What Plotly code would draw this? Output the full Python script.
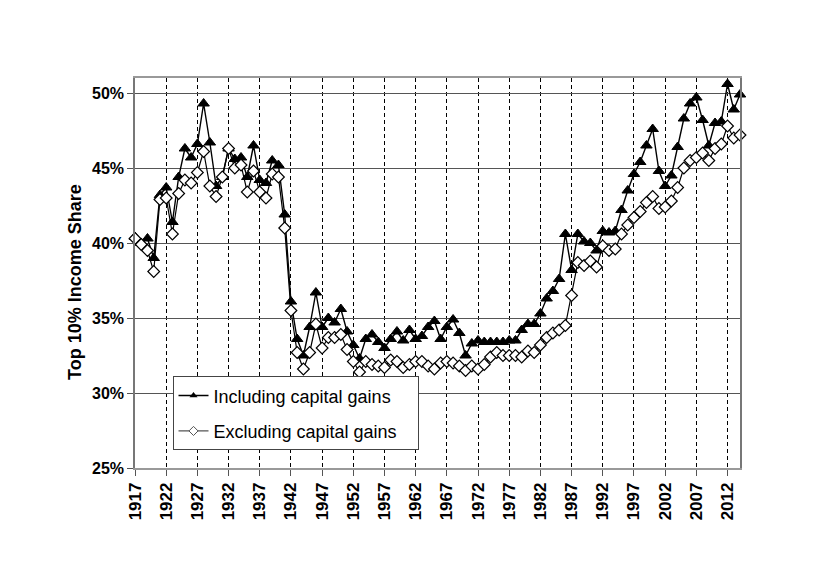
import plotly.graph_objects as go

years = list(range(1917, 2015))

incl_cg = [
    40.4, 40.0, 40.3, 39.0, 43.2, 43.7, 41.4, 44.4, 46.3, 45.7,
    46.6, 49.3, 46.7, 43.8, 44.4, 46.3, 45.6, 45.7, 44.4, 46.5,
    44.2, 44.0, 45.5, 45.2, 41.9, 36.1, 33.6, 32.5, 34.4, 36.7,
    34.4, 35.0, 34.7, 35.6, 34.1, 33.2, 32.3, 33.6, 33.9, 33.4,
    33.0, 33.6, 34.1, 33.5, 34.2, 33.6, 33.8, 34.4, 34.8, 33.6,
    34.4, 34.9, 34.0, 32.5, 33.3, 33.5, 33.4, 33.4, 33.4, 33.4,
    33.5, 33.5, 34.2, 34.6, 34.6, 35.3, 36.3, 36.8, 37.6, 40.6,
    38.2, 40.6, 40.1, 40.0, 39.5, 40.8, 40.7, 40.8, 42.2, 43.5,
    44.6, 45.4, 46.5, 47.6, 44.8, 43.8, 44.5, 46.4, 48.3, 49.3,
    49.7, 48.2, 46.5, 48.0, 48.1, 50.6, 48.9, 49.9,
]

excl_cg = [
    40.3, 39.9, 39.5, 38.1, 42.9, 43.0, 40.6, 43.3, 44.2, 44.0,
    44.7, 46.1, 43.8, 43.1, 44.4, 46.3, 45.0, 45.2, 43.4, 44.8,
    43.4, 43.0, 44.6, 44.4, 41.0, 35.5, 32.7, 31.6, 32.7, 34.6,
    33.0, 33.7, 33.7, 33.9, 32.9, 32.1, 31.4, 32.1, 31.9, 31.8,
    31.7, 32.2, 32.1, 31.7, 31.9, 32.1, 32.1, 31.8, 31.6, 32.0,
    32.1, 32.0, 31.8, 31.5, 31.8, 31.6, 31.9, 32.4, 32.7, 32.5,
    32.5, 32.5, 32.4, 32.8, 32.7, 33.2, 33.7, 34.0, 34.2, 34.5,
    36.5, 38.7, 38.5, 38.8, 38.4, 39.8, 39.5, 39.6, 40.6, 41.2,
    41.7, 42.1, 42.7, 43.1, 42.3, 42.4, 42.8, 43.7, 45.0, 45.5,
    45.7, 46.0, 45.5, 46.3, 46.6, 47.8, 47.0, 47.2,
]

series_names = ["Including capital gains", "Excluding capital gains"]
x_ticks = list(range(1917, 2015, 5))
y_ticks = [25, 30, 35, 40, 45, 50]
y_tick_labels = [f"{v}%" for v in y_ticks]

FONT = "Liberation Sans, Arial, sans-serif"
PAD = "\u00a0\u00a0\u00a0"

fig = go.Figure()
fig.add_trace(go.Scatter(
    x=years, y=incl_cg, mode="lines+markers", name=series_names[0],
    showlegend=False,
    line=dict(color="black", width=1.4),
    marker=dict(symbol="triangle-up", size=10, color="black",
                line=dict(color="black", width=1)),
    cliponaxis=False,
))
fig.add_trace(go.Scatter(
    x=years, y=excl_cg, mode="lines+markers", name=series_names[1],
    showlegend=False,
    line=dict(color="black", width=1.2),
    marker=dict(symbol="diamond", size=9, color="white",
                line=dict(color="black", width=1.2)),
    cliponaxis=False,
))
# legend entries with smaller symbols, as in the original
fig.add_trace(go.Scatter(
    x=[None], y=[None], mode="lines+markers", name=series_names[0] + PAD,
    legendgroup="a",
    line=dict(color="black", width=1.4),
    marker=dict(symbol="triangle-up", size=7, color="black"),
))
fig.add_trace(go.Scatter(
    x=[None], y=[None], mode="lines+markers", name=series_names[1] + PAD,
    legendgroup="b",
    line=dict(color="#555", width=1.2),
    marker=dict(symbol="diamond", size=7, color="white",
                line=dict(color="#555", width=1)),
))

fig.update_layout(
    width=820, height=574,
    margin=dict(l=135, r=80, t=78, b=106),
    paper_bgcolor="white", plot_bgcolor="white",
    font=dict(family=FONT, color="black"),
    showlegend=True,
    legend=dict(
        x=0.062, y=0.235, xanchor="left", yanchor="top",
        bgcolor="white", bordercolor="#444", borderwidth=1,
        font=dict(family=FONT, size=18, color="black"),
        tracegroupgap=9,
    ),
    xaxis=dict(
        range=[1917, 2014],
        tickmode="array", tickvals=x_ticks, ticktext=[str(v) for v in x_ticks],
        tickangle=-90,
        tickfont=dict(family=FONT, size=17, color="black", weight="bold"),
        ticks="outside", ticklen=6, tickcolor="#555",
        showgrid=True, gridcolor="black", griddash="4px,3px", gridwidth=1,
        showline=True, linecolor="#999", linewidth=1.5, mirror=True,
        zeroline=False,
    ),
    yaxis=dict(
        range=[25, 51],
        tickmode="array", tickvals=y_ticks, ticktext=y_tick_labels,
        tickfont=dict(family=FONT, size=16, color="black", weight="bold"),
        ticks="outside", ticklen=6, tickcolor="#555",
        showgrid=True, gridcolor="#555", gridwidth=1,
        showline=True, linecolor="#777", linewidth=1.5, mirror=True,
        zeroline=False,
    ),
    annotations=[dict(
        text="Top 10% Income Share", textangle=-90,
        xref="paper", yref="paper", x=0, y=0.5,
        xanchor="center", yanchor="middle",
        xshift=-60, yshift=-9, showarrow=False,
        font=dict(family=FONT, size=18, color="black", weight="bold"),
    )],
)

fig.write_html("out.html")
